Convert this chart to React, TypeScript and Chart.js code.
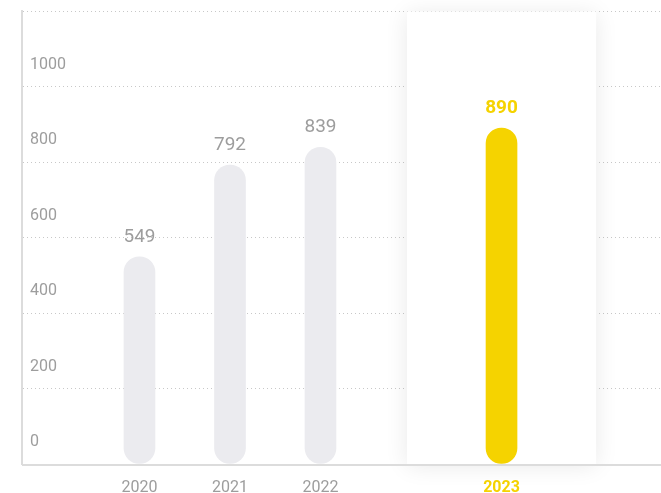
import React, { useEffect, useRef } from "react";
import { Chart, registerables } from "chart.js";

Chart.register(...registerables);

const categories = ["2020", "2021", "2022", "2023"];
const slotIndex = [0, 1, 2, 4];
const values = [549, 792, 839, 890];
const yTicks = [0, 200, 400, 600, 800, 1000, 1200];

const GRAY_BAR = "#ebebef";
const YELLOW = "#f5d300";
const TEXT_GRAY = "#9d9d9d";
const FONT = "Roboto, 'Open Sans', sans-serif";

const highlightPlugin = {
  id: "highlightBox",
  beforeDatasetsDraw(chart: any) {
    const { ctx, chartArea, scales } = chart;
    const x = scales.x.getPixelForValue(slotIndex[3]);
    const half = 94.5;
    ctx.save();
    ctx.shadowColor = "rgba(0,0,0,0.09)";
    ctx.shadowBlur = 22;
    ctx.shadowOffsetY = 2;
    ctx.fillStyle = "#ffffff";
    ctx.fillRect(x - half, chartArea.top + 0.5, half * 2, chartArea.bottom - chartArea.top - 0.5);
    ctx.restore();
    // bottom axis line
    ctx.save();
    ctx.strokeStyle = "#dcdcdc";
    ctx.lineWidth = 2;
    ctx.beginPath();
    ctx.moveTo(chartArea.left, chartArea.bottom + 1);
    ctx.lineTo(chartArea.right, chartArea.bottom + 1);
    ctx.stroke();
    ctx.restore();
  },
  afterDatasetsDraw(chart: any) {
    const { ctx } = chart;
    const meta = chart.getDatasetMeta(0);
    ctx.save();
    ctx.textAlign = "center";
    ctx.textBaseline = "middle";
    meta.data.forEach((bar: any, i: number) => {
      const hl = i === 3;
      ctx.fillStyle = hl ? YELLOW : TEXT_GRAY;
      ctx.font = `${hl ? "bold " : ""}19px ${FONT}`;
      ctx.fillText(String(values[i]), bar.x, bar.y - 20);
    });
    ctx.restore();
  },
};

export default function App() {
  const ref = useRef<HTMLCanvasElement | null>(null);
  useEffect(() => {
    if (!ref.current) return;
    const chart = new Chart(ref.current, {
      type: "bar",
      data: {
        datasets: [
          {
            data: values.map((v, i) => ({ x: slotIndex[i], y: v })),
            backgroundColor: values.map((_, i) => (i === 3 ? YELLOW : GRAY_BAR)),
            borderRadius: 16,
            borderSkipped: false,
            barThickness: 31,
          },
        ],
      },
      options: {
        animation: false,
        responsive: false,
        layout: { padding: { top: 11, left: 0, right: 0, bottom: 0 } },
        plugins: {
          legend: { display: false },
          tooltip: { enabled: false },
        },
        scales: {
          x: {
            type: "linear",
            offset: false,
            min: -1.298,
            max: 5.762,
            grid: { display: false, drawTicks: false },
            border: { display: false },
            afterBuildTicks(scale: any) {
              scale.ticks = slotIndex.map((v) => ({ value: v }));
            },
            afterFit(scale: any) {
              scale.height = 29;
              scale.paddingLeft = 0;
              scale.paddingRight = 0;
            },
            ticks: {
              padding: 14,
              autoSkip: false,
              maxRotation: 0,
              callback: (_v: any, i: number) => categories[i],
              color: (c: any) => (c.index === 3 ? YELLOW : TEXT_GRAY),
              font: (c: any) => ({ family: FONT, size: 16, weight: c.index === 3 ? "bold" : "normal" }),
            },
          },
          y: {
            min: 0,
            max: 1200,
            afterBuildTicks(scale: any) {
              scale.ticks = yTicks.map((v) => ({ value: v }));
            },
            afterFit(scale: any) {
              scale.width = 22;
              scale.paddingTop = 0;
              scale.paddingBottom = 0;
            },
            grid: {
              color: (c: any) => (c.tick && c.tick.value === 0 ? "rgba(0,0,0,0)" : "#c8c8c8"),
              lineWidth: 1,
              drawTicks: false,
            },
            border: { display: true, color: "#dcdcdc", width: 2, dash: [1, 3] },
            ticks: {
              mirror: true,
              padding: 8,
              labelOffset: -22,
              color: TEXT_GRAY,
              font: { family: FONT, size: 16 },
              callback: (v: any) => (v === 1200 ? "" : String(v)),
            },
          },
        },
      },
      plugins: [highlightPlugin],
    });
    return () => chart.destroy();
  }, []);
  return (
    <div style={{ position: "absolute", left: 0, top: 0, width: 661, height: 493 }}>
      <canvas ref={ref} width={661} height={493} />
    </div>
  );
}
